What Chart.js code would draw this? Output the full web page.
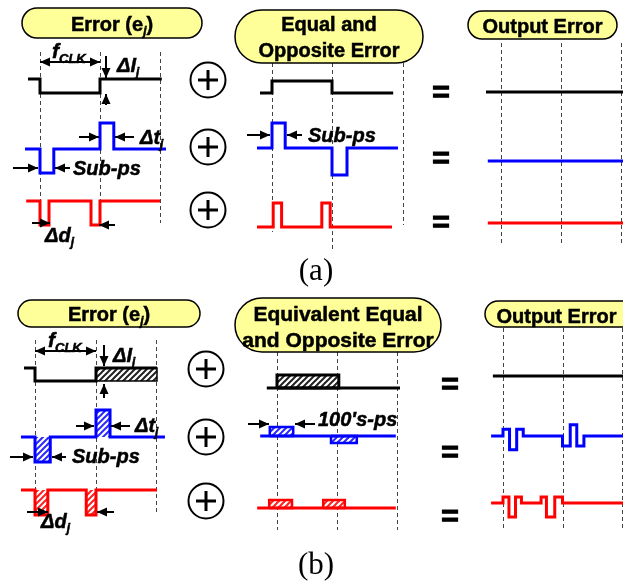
<!DOCTYPE html>
<html>
<head>
<meta charset="utf-8">
<title>Error cancellation waveforms</title>
<script src="https://cdn.jsdelivr.net/npm/chart.js@4/dist/chart.umd.min.js"></script>
<style>
  html, body { margin: 0; padding: 0; background: #fff; }
  canvas { display: block; }
</style>
</head>
<body>
<canvas id="wave" width="623" height="582"></canvas>
<script>
/* ── Waveforms: [time in clock periods, level in step units] ── */

// (a) level, timing and duty-cycle error with their equal and opposite copies
const errLevelA  = [[-0.2, 0], [0, 0], [0, -0.56], [1, -0.56], [1, 0], [2.03, 0]];
const errTimingA = [[-0.25, 0], [0, 0], [0, -0.96], [0.23, -0.96], [0.23, 0], [1, 0], [1, 1.04], [1.23, 1.04], [1.23, 0], [2.1, 0]];
const errDutyA   = [[-0.23, 0], [0, 0], [0, -0.96], [0.15, -0.96], [0.15, 0], [0.85, 0], [0.85, -0.96], [1, -0.96], [1, 0], [2, 0]];
const fixLevelA  = [[-0.2, 0], [0, 0], [0, 0.48], [1, 0.48], [1, 0], [2.02, 0]];
const fixTimingA = [[-0.25, 0], [0, 0], [0, 1], [0.22, 1], [0.22, 0], [1, 0], [1, -1.08], [1.25, -1.08], [1.25, 0], [2.1, 0]];
const fixDutyA   = [[-0.25, 0], [0.02, 0], [0.02, 0.96], [0.16, 0.96], [0.16, 0], [0.83, 0], [0.83, 0.96], [0.97, 0.96], [0.97, 0], [2, 0]];
const outLevelA  = [[-0.25, 0], [2.1, 0]];
const outTimingA = [[-0.22, 0], [2.1, 0]];
const outDutyA   = [[-0.22, 0], [2.1, 0]];

// (b) same errors, cancelled by wider 100's-ps pulses
const errLevelB  = [[-0.18, 0], [0, 0], [0, -0.52], [1, -0.52], [1, 0], [2, 0]];
const errTimingB = [[-0.23, 0], [0, 0], [0, -1], [0.25, -1], [0.25, 0], [1, 0], [1, 1.08], [1.23, 1.08], [1.23, 0], [2.13, 0]];
const errDutyB   = [[-0.23, 0], [0, 0], [0, -1], [0.21, -1], [0.21, 0], [0.84, 0], [0.84, -1], [1, -1], [1, 0], [2, 0]];
const fixLevelB  = [[-0.17, 0], [2.05, 0]];
const fixTimingB = [[-0.28, 0], [1.98, 0]];
const fixDutyB   = [[-0.33, 0], [1.98, 0]];
const outLevelB  = [[-0.17, 0], [2.05, 0]];
const outTimingB = [[-0.2, 0], [0, 0], [0, 0.27], [0.11, 0.27], [0.11, -0.55], [0.23, -0.55], [0.23, 0.27], [0.34, 0.27], [0.34, 0],
                    [1, 0], [1, -0.4], [1.13, -0.4], [1.13, 0.45], [1.24, 0.45], [1.24, -0.4], [1.36, -0.4], [1.36, 0], [2.05, 0]];
const outDutyB   = [[-0.2, 0], [0, 0], [0, 0.24], [0.1, 0.24], [0.1, -0.56], [0.21, -0.56], [0.21, 0.24], [0.31, 0.24], [0.31, 0],
                    [0.64, 0], [0.64, 0.24], [0.73, 0.24], [0.73, -0.56], [0.87, -0.56], [0.87, 0.24], [1, 0.24], [1, 0], [2.05, 0]];

// hatched uncertainty bands: [start, end, level] measured from the baseline
const errLevelBandsB  = [[1, 2, -0.52]];
const errTimingBandsB = [[0, 0.25, -1], [1, 1.23, 1.08]];
const errDutyBandsB   = [[0, 0.21, -1], [0.84, 1, -1]];
const fixLevelBandsB  = [[0, 1.03, 0.52]];
const fixTimingBandsB = [[-0.12, 0.27, 0.36], [0.9, 1.33, -0.28]];
const fixDutyBandsB   = [[-0.13, 0.25, 0.32], [0.77, 1.13, 0.32]];

// clock edges marked by the dashed guides
const edgesA1 = [0, 1, 2];
const edgesA2 = [0, 1, 2.18];
const edgesA3 = [0, 1, 2];
const edgesB1 = [0, 1, 1.98];
const edgesB2 = [0, 1, 2];
const edgesB3 = [0, 1, 2];

/* ── Layout ── */
const W = 623, H = 582;
const UNIT = 25;               // px per level step
const BLACK = "#000000", BLUE = "#0000ff", RED = "#ff0000";
const SANS = '"Liberation Sans", Arial, sans-serif';

const panels = {
  a1: { x0: 40,  period: 60,   rows: [79, 149, 201],  edges: edgesA1, guide: [[52, 223], [52, 223], [52, 223]] },
  a2: { x0: 272, period: 60,   rows: [93, 148, 227],  edges: edgesA2, guide: [[63, 232], [63, 250], [63, 225]] },
  a3: { x0: 501, period: 60,   rows: [92, 161, 223],  edges: edgesA3, guide: [[43, 243], [43, 243], [43, 243]] },
  b1: { x0: 35,  period: 61,   rows: [368, 437, 490], edges: edgesB1, guide: [[340, 512], [340, 512], [340, 512]] },
  b2: { x0: 277, period: 60,   rows: [388, 436, 508], edges: edgesB2, guide: [[352, 530], [352, 530], [352, 530]] },
  b3: { x0: 503, period: 59.5, rows: [376, 436, 503], edges: edgesB3, guide: [[328, 530], [328, 530], [328, 530]] },
};

const traces = [
  ["a1", 0, errLevelA, BLACK], ["a1", 1, errTimingA, BLUE], ["a1", 2, errDutyA, RED],
  ["a2", 0, fixLevelA, BLACK], ["a2", 1, fixTimingA, BLUE], ["a2", 2, fixDutyA, RED],
  ["a3", 0, outLevelA, BLACK], ["a3", 1, outTimingA, BLUE], ["a3", 2, outDutyA, RED],
  ["b1", 0, errLevelB, BLACK], ["b1", 1, errTimingB, BLUE], ["b1", 2, errDutyB, RED],
  ["b2", 0, fixLevelB, BLACK], ["b2", 1, fixTimingB, BLUE], ["b2", 2, fixDutyB, RED],
  ["b3", 0, outLevelB, BLACK], ["b3", 1, outTimingB, BLUE], ["b3", 2, outDutyB, RED],
];

// [panel, row, rects, colour, outline width]
const bands = [
  ["b1", 0, errLevelBandsB, BLACK, 1.5], ["b1", 1, errTimingBandsB, BLUE, 0], ["b1", 2, errDutyBandsB, RED, 0],
  ["b2", 0, fixLevelBandsB, BLACK, 3],   ["b2", 1, fixTimingBandsB, BLUE, 2.5], ["b2", 2, fixDutyBandsB, RED, 2.5],
];

function place(key, row, pts) {
  const p = panels[key];
  return pts.map(([t, v]) => ({ x: p.x0 + t * p.period, y: p.rows[row] - v * UNIT }));
}

function rectPts([t0, t1, v]) {
  return [[t0, 0], [t1, 0], [t1, v], [t0, v], [t0, 0]];
}

function hatch(stripe, ground) {
  const c = document.createElement("canvas");
  c.width = c.height = 6;
  const g = c.getContext("2d");
  g.fillStyle = ground;
  g.fillRect(0, 0, 6, 6);
  g.strokeStyle = stripe;
  g.lineWidth = 2;
  g.beginPath();
  g.moveTo(-1, 7); g.lineTo(7, -1);
  g.moveTo(-1, 1); g.lineTo(1, -1);
  g.moveTo(5, 7);  g.lineTo(7, 5);
  g.stroke();
  return g.createPattern(c, "repeat");
}

const patterns = {
  [BLACK]: hatch("#222222", "#ffffff"),
  [BLUE]:  hatch("#2a2aff", "#ffffff"),
  [RED]:   hatch("#ff2020", "#ffffff"),
};

/* ── Datasets ── */
const datasets = [];

bands.forEach(([key, row, rects, color, edge]) => {
  rects.forEach((r) => {
    datasets.push({
      data: place(key, row, rectPts(r)),
      showLine: true,
      fill: "shape",
      backgroundColor: patterns[color],
      borderColor: color,
      borderWidth: edge,
      pointRadius: 0,
      tension: 0,
      order: 2,
    });
  });
});

traces.forEach(([key, row, pts, color]) => {
  datasets.push({
    data: place(key, row, pts),
    showLine: true,
    fill: false,
    borderColor: color,
    borderWidth: 3,
    borderJoinStyle: "miter",
    pointRadius: 0,
    tension: 0,
    order: 1,
  });
});

/* ── Annotations (figure coordinates) ── */
const pills = [
  { box: [22, 8, 202, 38],     size: 20, lines: [{ y: 31, runs: [["Error (", 0], ["e", 0], ["j", 1, true], [")", 0]] }] },
  { box: [235, 10, 423, 63],   size: 20, lines: [{ y: 31, runs: [["Equal and", 0]] }, { y: 57, runs: [["Opposite Error", 0]] }] },
  { box: [468, 11, 617, 39],   size: 20, lines: [{ y: 33, runs: [["Output Error", 0]] }] },
  { box: [18, 300, 200, 327],  size: 20, lines: [{ y: 321, runs: [["Error (", 0], ["e", 0], ["j", 1, true], [")", 0]] }] },
  { box: [235, 298, 441, 352], size: 21, lines: [{ y: 321, runs: [["Equivalent Equal", 0]] }, { y: 347, runs: [["and Opposite Error", 0]] }] },
  { box: [485, 301, 640, 327], size: 20, lines: [{ y: 323, runs: [["Output Error", 0]] }] },
];

// italic labels: [x, baseline, [[text, isSub]]]
const labels = [
  [52, 58,  [["f", 0], ["CLK", 1]]],
  [117, 72, [["\u0394I", 0], ["j", 1]]],
  [140, 144, [["\u0394t", 0], ["j", 1]]],
  [73, 175, [["Sub-ps", 0]]],
  [45, 242, [["\u0394d", 0], ["j", 1]]],
  [308, 142, [["Sub-ps", 0]]],
  [48, 347, [["f", 0], ["CLK", 1]]],
  [113, 362, [["\u0394I", 0], ["j", 1]]],
  [135, 432, [["\u0394t", 0], ["j", 1]]],
  [72, 463, [["Sub-ps", 0]]],
  [41, 528, [["\u0394d", 0], ["j", 1]]],
  [318, 426, [["100's-ps", 0]]],
];

// [x1, y1, x2, y2, double-headed]
const arrows = [
  [40, 62, 100, 62, true], [106, 56, 106, 78], [106, 105, 106, 94],
  [79, 137, 99, 137], [134, 137, 115, 137], [13, 168, 38, 168], [70, 168, 55, 168],
  [32, 223, 50, 223], [115, 225, 99, 225], [247, 135, 270, 135], [302, 135, 287, 135],
  [35, 351, 96, 351, true], [104, 345, 104, 366], [104, 398, 104, 384],
  [76, 426, 94, 426], [130, 426, 111, 426], [10, 457, 33, 457], [66, 457, 52, 457],
  [27, 512, 48, 512], [114, 512, 97, 512], [248, 424, 269, 424], [315, 424, 295, 424],
];

const sums = [[208, 80], [208, 147], [208, 210], [206, 369], [206, 437], [206, 501]];
const equals = [[441, 93], [441, 159], [441, 223], [450, 385], [450, 453], [450, 517]];
const captions = [["(a)", 316, 272], ["(b)", 316, 566]];

/* ── Drawing helpers ── */
function font(size, italic) {
  return `${italic ? "italic " : ""}bold ${size}px ${SANS}`;
}

// runs: [text, isSub, italic]; sub runs shrink and drop below the baseline
function richWidth(ctx, runs, size, italicAll) {
  let w = 0;
  runs.forEach(([t, sub, it]) => {
    ctx.font = font(sub ? Math.round(size * 0.62) : size, italicAll || it);
    w += ctx.measureText(t).width;
  });
  return w;
}

function drawRich(ctx, x, y, runs, size, italicAll, align) {
  let cx = align === "center" ? x - richWidth(ctx, runs, size, italicAll) / 2 : x;
  ctx.lineWidth = 0.5;
  ctx.strokeStyle = ctx.fillStyle;
  runs.forEach(([t, sub, it]) => {
    const s = sub ? Math.round(size * 0.62) : size;
    const ty = sub ? y + size * 0.22 : y;
    ctx.font = font(s, italicAll || it);
    ctx.fillText(t, cx, ty);
    ctx.strokeText(t, cx, ty);
    cx += ctx.measureText(t).width;
  });
}

function head(ctx, x1, y1, x2, y2) {
  const a = Math.atan2(y2 - y1, x2 - x1), len = 10, half = 4.5;
  ctx.beginPath();
  ctx.moveTo(x2, y2);
  ctx.lineTo(x2 - len * Math.cos(a) + half * Math.sin(a), y2 - len * Math.sin(a) - half * Math.cos(a));
  ctx.lineTo(x2 - len * Math.cos(a) - half * Math.sin(a), y2 - len * Math.sin(a) + half * Math.cos(a));
  ctx.closePath();
  ctx.fill();
}

function pillPath(ctx, x1, y1, x2, y2) {
  const r = (y2 - y1) / 2;
  ctx.beginPath();
  ctx.moveTo(x1 + r, y1);
  ctx.lineTo(x2 - r, y1);
  ctx.arc(x2 - r, y1 + r, r, -Math.PI / 2, Math.PI / 2);
  ctx.lineTo(x1 + r, y2);
  ctx.arc(x1 + r, y1 + r, r, Math.PI / 2, Math.PI * 1.5);
  ctx.closePath();
}

const figure = {
  id: "figure",
  beforeDatasetsDraw(chart) {
    const { ctx, scales: { x, y } } = chart;
    ctx.save();
    ctx.strokeStyle = "#444444";
    ctx.lineWidth = 1;
    ctx.setLineDash([4, 3]);
    Object.values(panels).forEach((p) => {
      p.edges.forEach((t, i) => {
        const px = Math.round(x.getPixelForValue(p.x0 + t * p.period)) + 0.5;
        ctx.beginPath();
        ctx.moveTo(px, y.getPixelForValue(p.guide[i][0]));
        ctx.lineTo(px, y.getPixelForValue(p.guide[i][1]));
        ctx.stroke();
      });
    });
    ctx.restore();
  },
  afterDatasetsDraw(chart) {
    const { ctx, scales: { x, y } } = chart;
    const X = (v) => x.getPixelForValue(v), Y = (v) => y.getPixelForValue(v);
    ctx.save();
    ctx.textBaseline = "alphabetic";

    // header pills
    pills.forEach(({ box, size, lines }) => {
      const [x1, y1, x2, y2] = box;
      pillPath(ctx, X(x1), Y(y1), X(x2), Y(y2));
      ctx.fillStyle = "#ffff99";
      ctx.fill();
      ctx.lineWidth = 1.5;
      ctx.strokeStyle = BLACK;
      ctx.stroke();
      ctx.fillStyle = BLACK;
      lines.forEach((ln) => {
        const cx = (Math.min(x2, W) + x1) / 2 + (x2 > W ? (x2 - W) / 2 - 6 : 0);
        drawRich(ctx, X(cx), Y(ln.y), ln.runs, size, false, "center");
      });
    });

    // italic labels
    ctx.fillStyle = BLACK;
    labels.forEach(([lx, ly, runs]) => {
      const size = runs[0][0] === "f" ? 21 : 20;
      drawRich(ctx, X(lx), Y(ly), runs, size, true, "left");
    });

    // dimension arrows
    ctx.strokeStyle = BLACK;
    ctx.lineWidth = 2;
    arrows.forEach(([x1, y1, x2, y2, both]) => {
      ctx.beginPath();
      ctx.moveTo(X(x1), Y(y1));
      ctx.lineTo(X(x2), Y(y2));
      ctx.stroke();
      head(ctx, X(x1), Y(y1), X(x2), Y(y2));
      if (both) head(ctx, X(x2), Y(y2), X(x1), Y(y1));
    });

    // summing nodes
    sums.forEach(([sx, sy]) => {
      const cx = X(sx), cy = Y(sy);
      ctx.lineWidth = 2;
      ctx.beginPath();
      ctx.arc(cx, cy, 17.5, 0, Math.PI * 2);
      ctx.stroke();
      ctx.lineWidth = 3;
      ctx.beginPath();
      ctx.moveTo(cx - 10, cy); ctx.lineTo(cx + 10, cy);
      ctx.moveTo(cx, cy - 10); ctx.lineTo(cx, cy + 10);
      ctx.stroke();
    });

    // equals signs
    ctx.font = font(30, false);
    ctx.textAlign = "center";
    ctx.textBaseline = "middle";
    ctx.lineWidth = 1.2;
    equals.forEach(([ex, ey]) => {
      ctx.fillText("=", X(ex), Y(ey) + 1);
      ctx.strokeText("=", X(ex), Y(ey) + 1);
    });

    // sub-figure captions
    ctx.font = '31px "Liberation Serif", "Times New Roman", serif';
    captions.forEach(([t, cx, cy]) => ctx.fillText(t, X(cx), Y(cy)));
    ctx.restore();
  },
};

new Chart(document.getElementById("wave"), {
  type: "scatter",
  data: { datasets },
  options: {
    responsive: false,
    animation: false,
    events: [],
    layout: { padding: 0 },
    scales: {
      x: { type: "linear", min: 0, max: W, display: false },
      y: { type: "linear", min: 0, max: H, reverse: true, display: false },
    },
    plugins: { legend: { display: false }, tooltip: { enabled: false } },
  },
  plugins: [figure],
});
</script>
</body>
</html>
